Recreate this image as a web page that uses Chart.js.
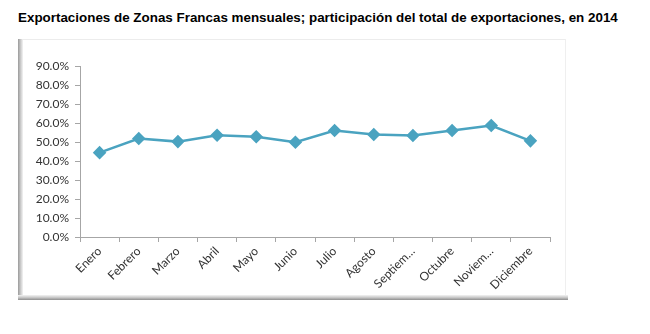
<!DOCTYPE html>
<html>
<head>
<meta charset="utf-8">
<script src="https://cdn.jsdelivr.net/npm/chart.js@4/dist/chart.umd.min.js"></script>
<style>
  html, body { margin: 0; padding: 0; background: #fff; }
  #wrap { position: relative; width: 650px; height: 334px; overflow: hidden; }
  #title { position: absolute; left: 18px; top: 10px; font-family: "Liberation Sans", Arial, sans-serif; font-weight: bold; font-size: 13.4px; letter-spacing: 0px; color: #000; white-space: nowrap; }
  #frame { position: absolute; left: 18px; top: 39px; width: 548px; height: 260px; border-top: 1px solid #ececec; border-right: 1px solid #efefef; box-sizing: border-box; }
  #lshadow { position: absolute; left: 18px; top: 39px; width: 5px; height: 261px; background: linear-gradient(to right, #9a9a9a, #c8c8c8 50%, #f4f4f4); }
  #bshadow { position: absolute; left: 18px; top: 295px; width: 550px; height: 5px; background: linear-gradient(to bottom, #f4f4f4, #c8c8c8 50%, #8e8e8e); }
  canvas { position: absolute; left: 0; top: 0; }
</style>
</head>
<body>
<div id="wrap">
  <div id="frame"></div>
  <div id="lshadow"></div>
  <div id="bshadow"></div>
  <div id="title">Exportaciones de Zonas Francas mensuales; participación del total de exportaciones, en 2014</div>
  <canvas id="c" width="650" height="334"></canvas>
</div>
<script>
const months = ["Enero", "Febrero", "Marzo", "Abril", "Mayo", "Junio", "Julio", "Agosto", "Septiem…", "Octubre", "Noviem…", "Diciembre"];
const shareValues = [44.4, 51.8, 50.2, 53.6, 52.8, 49.9, 56.0, 53.9, 53.4, 56.0, 58.7, 50.6];
const yTicks = [0, 10, 20, 30, 40, 50, 60, 70, 80, 90];

new Chart(document.getElementById('c'), {
  type: 'line',
  data: {
    labels: months,
    datasets: [{
      data: shareValues,
      borderColor: '#4aa3c0',
      backgroundColor: '#4aa3c0',
      borderWidth: 2.5,
      pointStyle: 'rectRot',
      pointRadius: 5,
      pointHoverRadius: 5,
      pointBackgroundColor: '#4aa3c0',
      pointBorderColor: '#4aa3c0',
      tension: 0,
      fill: false
    }]
  },
  options: {
    responsive: false,
    animation: false,
    devicePixelRatio: 1,
    layout: { padding: { top: 66, right: 100, bottom: 0, left: 0 } },
    plugins: { legend: { display: false }, tooltip: { enabled: false }, title: { display: false } },
    scales: {
      x: {
        type: 'category',
        offset: true,
        grid: { display: true, offset: true, drawOnChartArea: false, drawTicks: true, tickLength: 5, color: '#a6a6a6' },
        border: { display: true, color: '#a6a6a6', width: 1 },
        ticks: {
          autoSkip: false, maxRotation: 45, minRotation: 45, padding: 2,
          color: '#333333',
          font: { family: 'Lato, "Open Sans", sans-serif', size: 12 }
        },
        afterFit: (s) => { s.height = 97; }
      },
      y: {
        min: 0, max: 90,
        afterBuildTicks: (s) => { s.ticks = yTicks.map(v => ({ value: v })); },
        grid: { display: true, drawOnChartArea: false, drawTicks: true, tickLength: 5, color: '#a6a6a6' },
        border: { display: true, color: '#a6a6a6', width: 1 },
        ticks: {
          padding: 6,
          color: '#333333',
          font: { family: 'Lato, "Open Sans", sans-serif', size: 12 },
          callback: (v) => Number(v).toFixed(1) + '%'
        },
        afterFit: (s) => { s.width = 80; }
      }
    }
  }
});
</script>
</body>
</html>
